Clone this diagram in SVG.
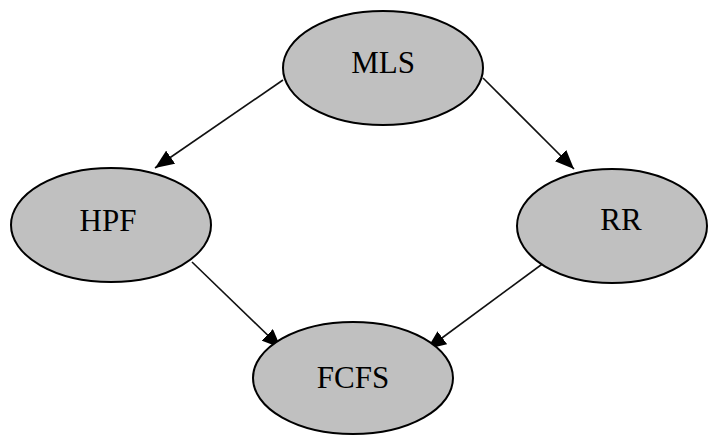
<svg xmlns="http://www.w3.org/2000/svg" width="709" height="435" viewBox="0 0 709 435">
<style>
.node ellipse{fill:#c0c0c0;stroke:#000;stroke-width:2}
.node text{font-family:"Liberation Serif","Times New Roman",serif;font-size:31px;fill:#000;text-anchor:middle}
.edge{stroke:#111;stroke-width:1.6;fill:none;marker-end:url(#arr)}
</style>
<defs>
<marker id="arr" markerUnits="userSpaceOnUse" markerWidth="22" markerHeight="16" refX="19" refY="8" orient="auto">
<path d="M0,0 L19,8 L0,16 Z" fill="#000"/>
</marker>
</defs>
<rect width="709" height="435" fill="#fff"/>
<g id="connectors">
<line class="edge" x1="283" y1="80" x2="155" y2="168"/>
<line class="edge" x1="483" y1="78" x2="574" y2="169"/>
<line class="edge" x1="192" y1="262" x2="281" y2="348"/>
<line class="edge" x1="545" y1="262" x2="427" y2="349"/>
</g>
<g id="MLS" class="node"><ellipse cx="383" cy="68" rx="100" ry="57"/><text x="383" y="73">MLS</text></g>
<g id="HPF" class="node"><ellipse cx="111" cy="225" rx="100" ry="57"/><text x="108" y="231">HPF</text></g>
<g id="RR" class="node"><ellipse cx="612" cy="226" rx="95" ry="57"/><text x="621" y="230">RR</text></g>
<g id="FCFS" class="node"><ellipse cx="353" cy="378" rx="100" ry="56"/><text x="353" y="388">FCFS</text></g>
</svg>
